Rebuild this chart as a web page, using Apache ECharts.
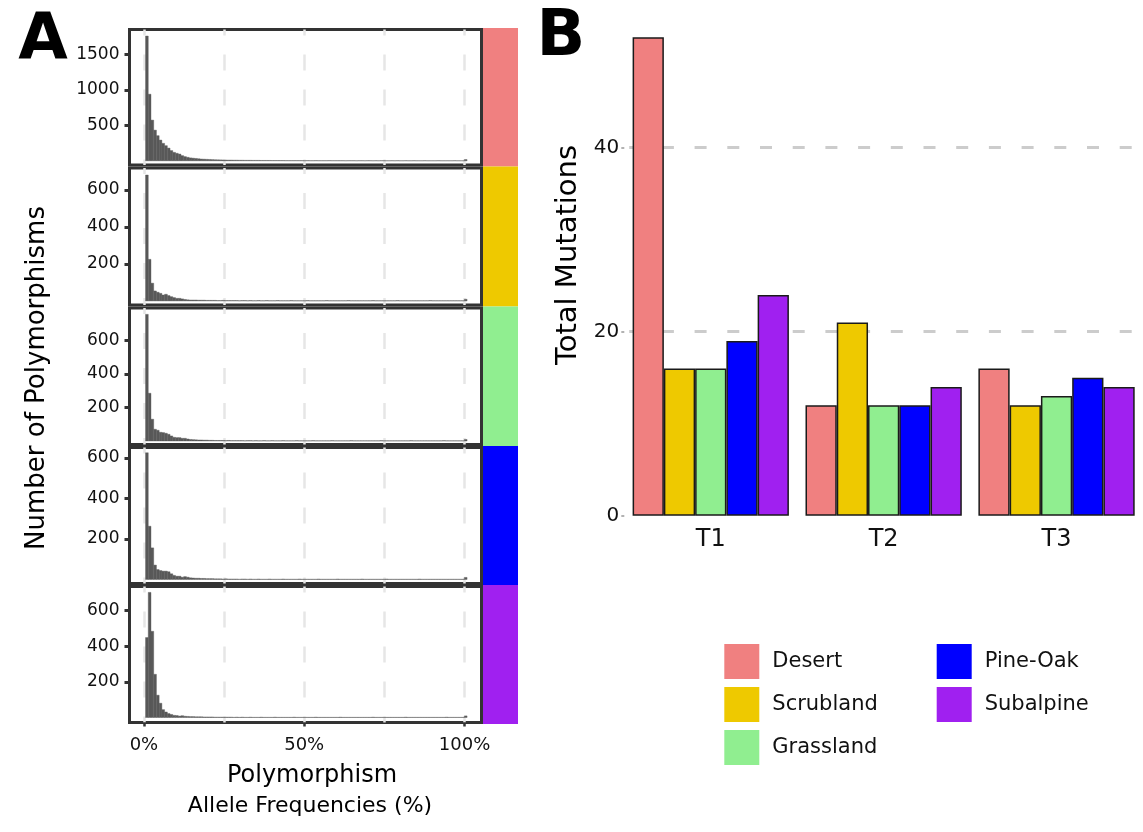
<!DOCTYPE html>
<html>
<head>
<meta charset="utf-8">
<script src="https://cdn.jsdelivr.net/npm/echarts@6/dist/echarts.min.js"></script>
<style>
html, body { margin: 0; padding: 0; background: #fff; }
#main { width: 1143px; height: 832px; }
</style>
</head>
<body>
<div id="main"></div>
<script>
var chartDom = document.getElementById('main');
var myChart = echarts.init(chartDom);
var option;

// ---- data ----
var biomes = ['Desert', 'Scrubland', 'Grassland', 'Pine-Oak', 'Subalpine'];
var biomeColors = ['#F08080', '#EEC900', '#90EE90', '#0000FF', '#A020F0'];

// panel A: histogram counts per allele-frequency bin (bins start at 0.5%, 0.85% wide)
var desertCounts = [
  1757, 938, 573, 432, 354, 292, 246, 213, 179, 144,
  119, 106, 95, 73, 59, 49, 41, 37, 33, 29,
  25, 23, 21, 19, 17, 15, 14, 13, 12, 11,
  10, 10, 9, 9, 8, 8, 7, 7, 7, 6,
  6, 6, 5, 5, 5, 5, 4, 4, 4, 4,
  4, 3, 3, 3, 3, 3, 3, 3, 2, 3,
  2, 2, 3, 2, 2, 2, 2, 3, 2, 2,
  2, 2, 2, 1, 2, 2, 2, 1, 2, 2,
  1, 2, 2, 1, 2, 1, 2, 2, 1, 1,
  2, 1, 2, 1, 1, 2, 1, 1, 2, 1,
  1, 1, 2, 1, 1, 1, 1, 2, 1, 1,
  1, 1, 1, 2, 1, 1, 1, 18
];
var scrublandCounts = [
  681, 225, 96, 54, 47, 41, 32, 36, 29, 23,
  18, 14, 14, 11, 8, 6, 5, 5, 5, 4,
  4, 4, 3, 3, 3, 3, 2, 2, 3, 2,
  2, 2, 2, 2, 1, 2, 2, 1, 2, 1,
  1, 2, 1, 1, 2, 1, 1, 1, 2, 1,
  1, 1, 1, 2, 1, 1, 1, 1, 1, 2,
  1, 1, 1, 1, 1, 1, 2, 1, 1, 1,
  1, 1, 1, 1, 2, 1, 1, 1, 1, 1,
  1, 1, 1, 2, 1, 1, 1, 1, 1, 1,
  1, 1, 2, 1, 1, 1, 1, 1, 1, 1,
  1, 1, 1, 1, 2, 1, 1, 1, 1, 1,
  1, 1, 1, 1, 1, 1, 1, 9
];
var grasslandCounts = [
  756, 285, 130, 70, 64, 52, 50, 46, 40, 30,
  22, 20, 20, 16, 16, 12, 9, 8, 7, 6,
  6, 5, 5, 4, 4, 3, 3, 3, 3, 2,
  3, 2, 2, 2, 2, 2, 1, 2, 2, 1,
  2, 1, 1, 2, 1, 1, 2, 1, 1, 1,
  2, 1, 1, 1, 1, 2, 1, 1, 1, 1,
  1, 2, 1, 1, 1, 1, 1, 1, 2, 1,
  1, 1, 1, 1, 1, 2, 1, 1, 1, 1,
  1, 1, 1, 1, 1, 1, 2, 1, 1, 1,
  1, 1, 1, 1, 1, 1, 1, 2, 1, 1,
  1, 1, 1, 1, 1, 1, 1, 1, 1, 2,
  1, 1, 1, 1, 1, 1, 1, 9
];
var pineOakCounts = [
  626, 263, 156, 71, 49, 44, 41, 41, 38, 28,
  20, 16, 16, 11, 14, 11, 8, 7, 6, 6,
  5, 5, 4, 4, 4, 3, 3, 3, 2, 3,
  2, 2, 2, 2, 1, 2, 2, 1, 2, 1,
  1, 2, 1, 1, 1, 2, 1, 1, 1, 1,
  2, 1, 1, 1, 1, 1, 2, 1, 1, 1,
  1, 1, 1, 2, 1, 1, 1, 1, 1, 1,
  2, 1, 1, 1, 1, 1, 1, 1, 1, 2,
  1, 1, 1, 1, 1, 1, 1, 1, 2, 1,
  1, 1, 1, 1, 1, 1, 1, 1, 1, 1,
  2, 1, 1, 1, 1, 1, 1, 1, 1, 1,
  1, 1, 1, 1, 1, 1, 1, 10
];
var subalpineCounts = [
  448, 701, 483, 242, 125, 80, 44, 31, 22, 17,
  12, 11, 8, 10, 7, 6, 5, 5, 4, 4,
  4, 3, 3, 3, 3, 2, 2, 2, 2, 2,
  2, 2, 1, 2, 1, 2, 1, 1, 2, 1,
  1, 1, 2, 1, 1, 1, 1, 2, 1, 1,
  1, 1, 1, 1, 2, 1, 1, 1, 1, 1,
  1, 1, 2, 1, 1, 1, 1, 1, 1, 1,
  1, 2, 1, 1, 1, 1, 1, 1, 1, 1,
  1, 1, 1, 2, 1, 1, 1, 1, 1, 1,
  1, 1, 1, 1, 1, 2, 1, 1, 1, 1,
  1, 1, 1, 1, 1, 1, 1, 1, 1, 1,
  2, 1, 1, 1, 1, 1, 1, 9
];
var histCounts = [desertCounts, scrublandCounts, grasslandCounts, pineOakCounts, subalpineCounts];
var yTickValues = [
  [500, 1000, 1500],
  [200, 400, 600],
  [200, 400, 600],
  [200, 400, 600],
  [200, 400, 600]
];
var xTickValues = [0, 50, 100];
var xGridValues = [0, 25, 50, 75, 100];

// panel B: total mutations per time point
var timePoints = ['T1', 'T2', 'T3'];
var desertTotals = [52, 12, 16];
var scrublandTotals = [16, 21, 12];
var grasslandTotals = [16, 12, 13];
var pineOakTotals = [19, 12, 15];
var subalpineTotals = [24, 14, 14];
var totals = [desertTotals, scrublandTotals, grasslandTotals, pineOakTotals, subalpineTotals];
var bTickValues = [0, 20, 40];
var bGridValues = [20, 40];

// ---- layout ----
var FONT = 'DejaVu Sans';
var binStart = 0.5, binWidth = 0.85;
var panelTops = [29.5, 168, 308, 447.5, 586.5];
var panelBottoms = [165, 305, 444.5, 583.5, 722.5];
var yRanges = [[-59, 1849], [-22, 719], [-21, 794], [-20, 652], [-28, 734]];

function histBar(params, api) {
  var a = api.coord([api.value(0), 0]);
  var b = api.coord([api.value(1), api.value(2)]);
  return {
    type: 'rect',
    shape: { x: a[0], y: b[1], width: b[0] - a[0], height: a[1] - b[1] },
    style: { fill: '#595959', stroke: '#595959', lineWidth: 0.4 }
  };
}
function plain(v) { return String(v); }

var grids = [], xAxes = [], yAxes = [], series = [], graphics = [];

for (var i = 0; i < 5; i++) {
  grids.push({
    left: 129.5, width: 352, top: panelTops[i], height: panelBottoms[i] - panelTops[i],
    show: true, borderColor: '#333', borderWidth: 3, backgroundColor: '#fff'
  });
  xAxes.push({
    type: 'value', gridIndex: i, min: -4.5, max: 105.3, position: 'top',
    axisLine: { show: false, onZero: false },
    axisTick: { show: false, customValues: xGridValues },
    axisLabel: { show: false },
    splitLine: { show: true, lineStyle: { color: '#e6e6e6', width: 2.5, type: [16, 19], dashOffset: 10 } }
  });
  yAxes.push({
    type: 'value', gridIndex: i, min: yRanges[i][0], max: yRanges[i][1],
    axisLine: { show: false, onZero: false },
    axisTick: { show: true, length: 5, lineStyle: { color: '#333', width: 3 }, customValues: yTickValues[i] },
    axisLabel: { customValues: yTickValues[i], formatter: plain, fontSize: 17, fontFamily: FONT, color: '#111', margin: 10 },
    splitLine: { show: false }
  });
  var d = [];
  for (var j = 0; j < histCounts[i].length; j++) {
    d.push([binStart + j * binWidth, binStart + (j + 1) * binWidth, histCounts[i][j]]);
  }
  series.push({
    type: 'custom', xAxisIndex: i, yAxisIndex: i, renderItem: histBar,
    encode: { x: [0, 1], y: 2 }, data: d, silent: true
  });
  // facet strip
  graphics.push({
    type: 'rect', x: 483, y: panelTops[i] - 1.5,
    shape: { width: 35, height: panelBottoms[i] - panelTops[i] + 3 },
    style: { fill: biomeColors[i] }
  });
}

// bottom x labels for panel A
xAxes.push({
  type: 'value', gridIndex: 4, min: -4.5, max: 105.3, position: 'bottom',
  axisLine: { show: false, onZero: false },
  axisTick: { show: true, length: 4, lineStyle: { color: '#333', width: 2.5 }, customValues: xTickValues },
  axisLabel: { customValues: xTickValues, formatter: '{value}%', fontSize: 18, fontFamily: FONT, color: '#111', margin: 14 },
  splitLine: { show: false }
});

// panel B
grids.push({ left: 624.3, top: 15, width: 523, height: 500.7 });
xAxes.push({
  type: 'category', gridIndex: 5, data: timePoints,
  axisLine: { show: false, onZero: false }, axisTick: { show: false },
  axisLabel: { fontSize: 24, fontFamily: FONT, color: '#111', margin: 12 }
});
yAxes.push({
  type: 'value', gridIndex: 5, min: 0, max: 54.42,
  axisLine: { show: false, onZero: false },
  axisTick: { show: true, length: 3, lineStyle: { color: '#999', width: 1.5 }, customValues: bTickValues },
  axisLabel: { customValues: bTickValues, formatter: plain, fontSize: 20, fontFamily: FONT, color: '#111', margin: 5 },
  splitLine: { show: false }
});
yAxes.push({
  type: 'value', gridIndex: 5, min: 0, max: 54.42, position: 'left',
  axisLine: { show: false, onZero: false },
  axisTick: { show: false, customValues: bGridValues },
  axisLabel: { show: false },
  splitLine: { show: true, lineStyle: { color: '#cccccc', width: 3, type: [12, 20.7], dashOffset: 27.8 } }
});
for (var k = 0; k < 5; k++) {
  series.push({
    type: 'bar', name: biomes[k], xAxisIndex: 6, yAxisIndex: 5, data: totals[k],
    barGap: '0%', barCategoryGap: '9.6%',
    itemStyle: { color: biomeColors[k], borderColor: '#1a1a1a', borderWidth: 1.5 }
  });
}

// titles and panel letters
function txt(t, x, y, size, rot, weight) {
  return {
    type: 'text', x: x, y: y, rotation: rot || 0,
    style: {
      text: t, fill: '#000', font: (weight || 'normal') + ' ' + size + 'px "' + FONT + '"',
      align: 'center', verticalAlign: 'middle', textAlign: 'center', textVerticalAlign: 'middle'
    }
  };
}
graphics.push(txt('A', 43, 42, 64, 0, 'bold'));
graphics.push(txt('B', 561, 38, 64, 0, 'bold'));
graphics.push(txt('Number of Polymorphisms', 37, 378, 26, Math.PI / 2));
graphics.push(txt('Total Mutations', 568, 255, 29, Math.PI / 2));
graphics.push(txt('Polymorphism', 312, 776, 24));
graphics.push(txt('Allele Frequencies (%)', 310, 806, 22));

var legendCommon = {
  orient: 'vertical', icon: 'rect', itemWidth: 35, itemHeight: 35, itemGap: 8, padding: 0,
  top: 644, itemStyle: { borderWidth: 0 },
  textStyle: { fontSize: 21, fontFamily: FONT, color: '#111', padding: [0, 0, 0, 8] }
};

option = {
  animation: false,
  backgroundColor: '#fff',
  textStyle: { fontFamily: FONT },
  grid: grids,
  xAxis: xAxes,
  yAxis: yAxes,
  legend: [
    Object.assign({}, legendCommon, { left: 724.3, data: ['Desert', 'Scrubland', 'Grassland'] }),
    Object.assign({}, legendCommon, { left: 936.7, data: ['Pine-Oak', 'Subalpine'] })
  ],
  graphic: graphics,
  series: series
};

option && myChart.setOption(option);
</script>
</body>
</html>
